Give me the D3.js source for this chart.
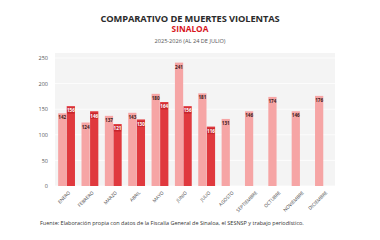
<!DOCTYPE html>
<html>
<head>
<meta charset="utf-8">
<script src="https://cdn.jsdelivr.net/npm/d3@7"></script>
<style>
  html, body { margin: 0; padding: 0; background: #fff; }
  svg { display: block; font-family: "Open Sans", sans-serif; }
</style>
</head>
<body>
<div id="chart"></div>
<script>
const meses = ["ENERO", "FEBRERO", "MARZO", "ABRIL", "MAYO", "JUNIO", "JULIO", "AGOSTO", "SEPTIEMBRE", "OCTUBRE", "NOVIEMBRE", "DICIEMBRE"];
const valores2025 = [142, 124, 137, 143, 180, 241, 181, 131, 146, 174, 146, 176];
const valores2026 = [156, 146, 121, 130, 164, 156, 116];
const yTicks = [0, 50, 100, 150, 200, 250];

const width = 380, height = 240;
const margin = { top: 53, right: 45, bottom: 54, left: 55 };
const color2025 = "#f6a5a5";
const color2026 = "#e0393e";

const svg = d3.select("#chart").append("svg")
    .attr("width", width)
    .attr("height", height);

// titles
svg.append("text")
    .attr("x", width / 2).attr("y", 21.5)
    .attr("text-anchor", "middle")
    .attr("font-size", 9.3).attr("font-weight", 700)
    .attr("letter-spacing", -0.1)
    .attr("fill", "#2b2b2b")
    .text("COMPARATIVO DE MUERTES VIOLENTAS");
svg.append("text")
    .attr("x", width / 2).attr("y", 32)
    .attr("text-anchor", "middle")
    .attr("font-size", 8.3).attr("font-weight", 700)
    .attr("fill", "#d7141c")
    .text("SINALOA");
svg.append("text")
    .attr("x", width / 2).attr("y", 42.5)
    .attr("text-anchor", "middle")
    .attr("font-size", 5.6).attr("fill", "#555")
    .text("2025-2026 (AL 24 DE JULIO)");

const x = d3.scaleBand()
    .domain(meses)
    .range([margin.left, width - margin.right])
    .paddingInner(0.25)
    .paddingOuter(0.12);

const xSub = d3.scaleBand()
    .domain(["2025", "2026"])
    .range([0, x.bandwidth()])
    .padding(0.04);

const y = d3.scaleLinear()
    .domain([0, 250])
    .range([height - margin.bottom, margin.top + 5]);

// plot background
svg.append("rect")
    .attr("x", margin.left).attr("y", margin.top)
    .attr("width", width - margin.right - margin.left)
    .attr("height", y(0) - margin.top)
    .attr("fill", "#f4f4f4");

// grid
svg.append("g")
    .selectAll("line")
    .data(yTicks)
    .join("line")
    .attr("x1", margin.left).attr("x2", width - margin.right)
    .attr("y1", d => y(d)).attr("y2", d => y(d))
    .attr("stroke", "#fff").attr("stroke-width", 0.8);

// y axis
svg.append("g")
    .attr("transform", `translate(${margin.left - 4},0)`)
    .call(d3.axisLeft(y).tickValues(yTicks).tickSize(0))
    .call(g => g.select(".domain").remove())
    .call(g => g.selectAll("text")
        .attr("font-family", "Open Sans, sans-serif")
        .attr("font-size", 5.5)
        .attr("fill", "#555"));

// x axis
svg.append("g")
    .attr("transform", `translate(0,${y(0)})`)
    .call(d3.axisBottom(x).tickSize(0))
    .call(g => g.select(".domain").remove())
    .call(g => g.selectAll("text")
        .attr("font-family", "Open Sans, sans-serif")
        .attr("font-size", 4.7)
        .attr("fill", "#444")
        .attr("text-anchor", "end")
        .attr("dy", 0)
        .attr("transform", "translate(2,5) rotate(-45)"));

const datos = meses.map((m, i) => ({ mes: m, v25: valores2025[i], v26: valores2026[i] }));

const grupos = svg.append("g")
    .selectAll("g")
    .data(datos)
    .join("g")
    .attr("transform", d => `translate(${x(d.mes)},0)`);

// 2025 bars
grupos.append("rect")
    .attr("x", xSub("2025"))
    .attr("width", xSub.bandwidth())
    .attr("y", d => y(d.v25))
    .attr("height", d => y(0) - y(d.v25))
    .attr("fill", color2025);

grupos.append("text")
    .attr("x", xSub("2025") + xSub.bandwidth() / 2)
    .attr("y", d => y(d.v25) + 6)
    .attr("text-anchor", "middle")
    .attr("font-size", 4.6).attr("font-weight", 700)
    .attr("fill", "#3a1a1a")
    .text(d => d.v25);

// 2026 bars
const g26 = grupos.filter(d => d.v26 != null);

g26.append("rect")
    .attr("x", xSub("2026"))
    .attr("width", xSub.bandwidth())
    .attr("y", d => y(d.v26))
    .attr("height", d => y(0) - y(d.v26))
    .attr("fill", color2026);

g26.append("rect")
    .attr("x", xSub("2026") + 0.5)
    .attr("width", xSub.bandwidth() - 1)
    .attr("y", d => y(d.v26) + 1.5)
    .attr("height", 6)
    .attr("fill", "#c8262c");

g26.append("text")
    .attr("x", xSub("2026") + xSub.bandwidth() / 2)
    .attr("y", d => y(d.v26) + 6.3)
    .attr("text-anchor", "middle")
    .attr("font-size", 4.6).attr("font-weight", 700)
    .attr("fill", "#fff")
    .text(d => d.v26);

// source
svg.append("text")
    .attr("x", 40).attr("y", 225)
    .attr("font-size", 5.5).attr("fill", "#333")
    .text("Fuente: Elaboración propia con datos de la Fiscalía General de Sinaloa, el SESNSP y trabajo periodístico.");
</script>
</body>
</html>
